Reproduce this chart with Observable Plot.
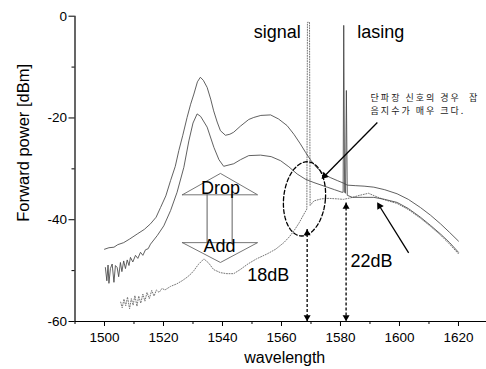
<!DOCTYPE html>
<html><head><meta charset="utf-8">
<script src="https://cdn.jsdelivr.net/npm/d3@7"></script>
<script src="https://cdn.jsdelivr.net/npm/@observablehq/plot@0.6"></script>
<style>
html,body{margin:0;padding:0;background:#fff;}
#chart svg{display:block;}
</style></head><body><div id="chart"></div>
<script>
// ---- axis ticks ----
const xTicks = [1500,1520,1540,1560,1580,1600,1620];
const xMinorTicks = [1490,1510,1530,1550,1570,1590,1610];
const yTicks = [0,-20,-40,-60];
const yMinorTicks = [-10,-30,-50];

// ---- series: [wavelength nm, forward power dBm] ----
const upperCurve = [[1500,-45.8],[1501.5,-45.5],[1503.2,-45.4],[1504.5,-44.9],[1506.5,-44.5],[1508.5,-43.8],[1511.1,-42.8],[1513.5,-41.9],[1515.6,-40.8],[1517.5,-39.5],[1519,-37.6],[1520.8,-35.3],[1522.4,-32.3],[1524,-29.5],[1525.2,-26.4],[1526.5,-23.5],[1528,-19.9],[1529.2,-17.3],[1530.3,-15.3],[1531.5,-12.9],[1532.5,-12.0],[1533.5,-12.6],[1534.8,-14],[1536,-16.3],[1537,-18.6],[1538.2,-20.8],[1539.3,-22.5],[1541,-23.4],[1542.5,-23.2],[1543.8,-22.8],[1546.1,-21.6],[1548.9,-20.3],[1550.6,-19.9],[1553,-19.5],[1556.3,-19.4],[1559,-20.2],[1561.9,-21.5],[1564.2,-23.2],[1566.4,-25.1],[1568.2,-26.8],[1569.9,-28.3],[1572,-29.8],[1574.3,-31.0],[1576.5,-31.7],[1578.9,-32.3],[1581,-32.8],[1582.3,-33.2],[1585,-33.3],[1588,-33.4],[1591.3,-33.6],[1595,-34.1],[1599.2,-34.9],[1603,-36.0],[1607.1,-37.6],[1610.5,-39.1],[1613.9,-40.8],[1617,-42.5],[1620,-44.2]];

const middleCurve = [[1500.3,-49.4],[1500.8,-52.0],[1501.2,-48.9],[1501.5,-52.5],[1502,-49.6],[1502.6,-48.7],[1503.2,-52.3],[1503.7,-49.0],[1504.3,-49.4],[1504.8,-51.2],[1505.4,-48.4],[1505.9,-50.2],[1506.5,-48.1],[1507.1,-49.6],[1507.7,-47.9],[1508.3,-49.0],[1508.8,-47.4],[1509.6,-48.3],[1510.5,-47.0],[1511.3,-47.6],[1512.2,-46.4],[1513,-47.0],[1513.9,-45.9],[1514.8,-45.7],[1515.6,-44.8],[1517.9,-43.1],[1520.1,-41.2],[1522.4,-38.2],[1524.6,-34.6],[1526.9,-29.7],[1528.6,-24.5],[1530,-21.0],[1531.4,-19.2],[1532.6,-19.7],[1534.8,-21.8],[1537.1,-25.8],[1538.8,-28.2],[1540.4,-29.5],[1543.8,-29.0],[1546.1,-28.2],[1548.9,-27.4],[1552.9,-27.3],[1556.5,-27.6],[1559.7,-28.4],[1562.5,-29.6],[1565.3,-31.0],[1568,-32.0],[1571,-32.7],[1575.5,-33.6],[1578,-34.1],[1580.5,-34.6],[1580.9,-34.6],[1581.1,-1.8],[1581.4,-34.6],[1581.7,-34.8],[1582.0,-14.6],[1582.3,-35.2],[1584,-35.6],[1587.5,-35.6],[1591.3,-35.6],[1595,-36.0],[1599.2,-36.6],[1603,-37.8],[1607.1,-39.5],[1610.5,-41.1],[1613.9,-42.8],[1617,-44.5],[1620,-46.4]];

const dottedCurve = [[1505.5,-56.2],[1506,-57.3],[1506.6,-55.6],[1507.2,-56.9],[1507.8,-55.2],[1508.5,-57.5],[1509.1,-55.5],[1509.7,-56.8],[1510.3,-54.9],[1511,-57.0],[1511.6,-55.0],[1512.3,-56.4],[1513,-54.6],[1513.7,-56.0],[1514.4,-54.3],[1515.2,-55.5],[1516,-53.9],[1516.8,-55.0],[1517.6,-53.8],[1518.5,-54.3],[1519.5,-53.5],[1520.5,-53.8],[1522.4,-53.1],[1524.5,-52.6],[1526.3,-52.0],[1528,-51.3],[1529.2,-50.7],[1530.3,-50.0],[1531.8,-48.8],[1533.7,-47.7],[1535.3,-48.5],[1537,-49.8],[1539.3,-50.4],[1541.5,-50.6],[1543.8,-50.6],[1546,-49.8],[1548.6,-48.7],[1551.5,-47.7],[1555.2,-46.7],[1558,-45.8],[1560.8,-44.5],[1562.6,-43.4],[1564.2,-42.2],[1566,-40.6],[1567.6,-38.9],[1568.6,-37.9],[1568.8,-1.2],[1569.5,-1.2],[1569.7,-37.2],[1571,-36.3],[1573.5,-35.9],[1576,-35.8],[1579,-35.9],[1581,-36.0],[1583.4,-35.7],[1586.5,-35.2],[1589.5,-34.8],[1591.5,-35.3],[1595,-36.1],[1599.2,-36.8],[1603,-38.0],[1607.1,-39.7],[1610.5,-41.3],[1613.9,-43.0],[1617,-44.8],[1620,-46.7]];

// ---- annotations (data coordinates) ----
const dropHead = [[1526.4,-35.1],[1539.3,-30.9],[1551.9,-35.1],[1526.4,-35.1]];
const addHead = [[1526.4,-44.5],[1539.3,-48.4],[1551.9,-44.5],[1526.4,-44.5]];
const shaftX = [1534.8,1543.3];
const shaftY = [-35.1,-44.5];
const startLabels = [
  {text:"signal", x:1550.6, y:-4.3},
  {text:"lasing", x:1585.7, y:-4.3},
  {text:"18dB", x:1548.4, y:-52.0},
  {text:"22dB", x:1583.4, y:-49.2}
];
const centerLabels = [
  {text:"Drop", x:1539.3, y:-35.0},
  {text:"Add", x:1539.0, y:-46.4}
];
const noteLines = [
  {text:"단파장 신호의 경우  잡", x:1590.2, y:-16.6},
  {text:"음지수가 매우 크다.", x:1590.2, y:-19.2}
];
const solidArrows = [
  {x1:1592.5, y1:-20.9, x2:1574.6, y2:-31.4},
  {x1:1603.1, y1:-46.5, x2:1593.2, y2:-37.3}
];
const dashedArrows = [
  {x:1568.7, top:-41.8},
  {x:1581.9, top:-36.6}
];
const ellipseCenter = [1567.8,-35.9];
const ellipseR = [7.1, 7.3];
const ellipseTilt = 0.9;
const ellipsePts = d3.range(0,73).map(i => {
  const t = i/72*2*Math.PI;
  return [ellipseCenter[0] + ellipseR[0]*Math.cos(t) + ellipseTilt*Math.sin(t),
          ellipseCenter[1] + ellipseR[1]*Math.sin(t)];
});

const font = "'Liberation Sans', Arial, Helvetica, sans-serif";
const X = d => d[0], Y = d => d[1];

const chart = Plot.plot({
  width: 486, height: 369,
  marginLeft: 74.5, marginRight: 0, marginTop: 15.7, marginBottom: 48,
  x: {domain: [1490, 1629.5]},
  y: {domain: [-60, 0]},
  style: {fontFamily: font, background: "#fff", color: "#000", overflow: "visible"},
  marks: [
    Plot.axisX(xTicks, {tickSize: 5, tickPadding: 6, fontSize: 13.5, tickFormat: d => String(d), label: null}),
    Plot.axisX(xMinorTicks, {tickSize: 3, tickFormat: () => "", label: null}),
    Plot.axisY(yTicks, {tickSize: 6, tickPadding: 2, fontSize: 13.5, tickFormat: d => String(d), label: null}),
    Plot.axisY(yMinorTicks, {tickSize: 3, tickFormat: () => "", label: null}),
    Plot.ruleY([-60], {stroke: "#000", strokeWidth: 1.2}),
    Plot.ruleX([1490], {y1: -60, y2: 0, stroke: "#000", strokeWidth: 1.2}),
    Plot.text(["Forward power [dBm]"], {text: d => d, frameAnchor: "left", dx: -51, dy: -26, rotate: -90, fontSize: 16.5, textAnchor: "middle", lineAnchor: "middle", fill: "#000"}),
    Plot.text(["wavelength"], {text: d => d, frameAnchor: "bottom", dx: 4, dy: 41, fontSize: 16, lineAnchor: "bottom", fill: "#000"}),

    // Drop / Add block arrow
    Plot.ruleX(shaftX, {y1: shaftY[0], y2: shaftY[1], stroke: "#9a9a9a", strokeWidth: 1.6}),
    Plot.line(dropHead, {x: X, y: Y, stroke: "#666", strokeWidth: 0.9}),
    Plot.line(addHead, {x: X, y: Y, stroke: "#666", strokeWidth: 0.9}),

    // curves
    Plot.line(dottedCurve, {x: X, y: Y, stroke: "#777", strokeWidth: 1, strokeDasharray: "1,1.6"}),
    Plot.line(upperCurve, {x: X, y: Y, stroke: "#444", strokeWidth: 0.85}),
    Plot.line(middleCurve, {x: X, y: Y, stroke: "#444", strokeWidth: 0.85}),

    // dashed ellipse
    Plot.line(ellipsePts, {x: X, y: Y, stroke: "#000", strokeWidth: 1.3, strokeDasharray: "4,2.5"}),

    // dashed double arrows
    Plot.link(dashedArrows, {x1: "x", x2: "x", y1: "top", y2: () => -60, stroke: "#000", strokeWidth: 1.3, strokeDasharray: "3,2"}),
    Plot.dot(dashedArrows, {x: "x", y: "top", symbol: "triangle", r: 2.6, fill: "#000", stroke: null, dy: 4.3}),
    Plot.dot(dashedArrows, {x: "x", y: () => -60, symbol: "triangle", rotate: 180, r: 2.6, fill: "#000", stroke: null, dy: -4.3}),

    // solid arrows
    Plot.link(solidArrows, {x1: "x1", y1: "y1", x2: "x2", y2: "y2", stroke: "#000", strokeWidth: 1.3}),
    Plot.dot([solidArrows[0]], {x: "x2", y: "y2", symbol: "triangle", rotate: 225, r: 2.8, fill: "#000", stroke: null}),
    Plot.dot([solidArrows[1]], {x: "x2", y: "y2", symbol: "triangle", rotate: -31.5, r: 2.8, fill: "#000", stroke: null}),

    // labels
    Plot.text(startLabels, {x: "x", y: "y", text: "text", textAnchor: "start", lineAnchor: "bottom", fontSize: 18, fill: "#000"}),
    Plot.text(centerLabels, {x: "x", y: "y", text: "text", textAnchor: "middle", lineAnchor: "bottom", fontSize: 18, fill: "#000"}),
    Plot.text(noteLines, {x: "x", y: "y", text: "text", textAnchor: "start", lineAnchor: "bottom", fontSize: 9, fill: "#222", fontFamily: "'Noto Sans CJK KR', sans-serif"})
  ]
});

d3.select(chart).selectAll("text").each(function() {
  if (/[\uAC00-\uD7A3]/.test(this.textContent)) this.setAttribute("letter-spacing", "2");
});
document.getElementById("chart").appendChild(chart);
</script>
</body></html>
